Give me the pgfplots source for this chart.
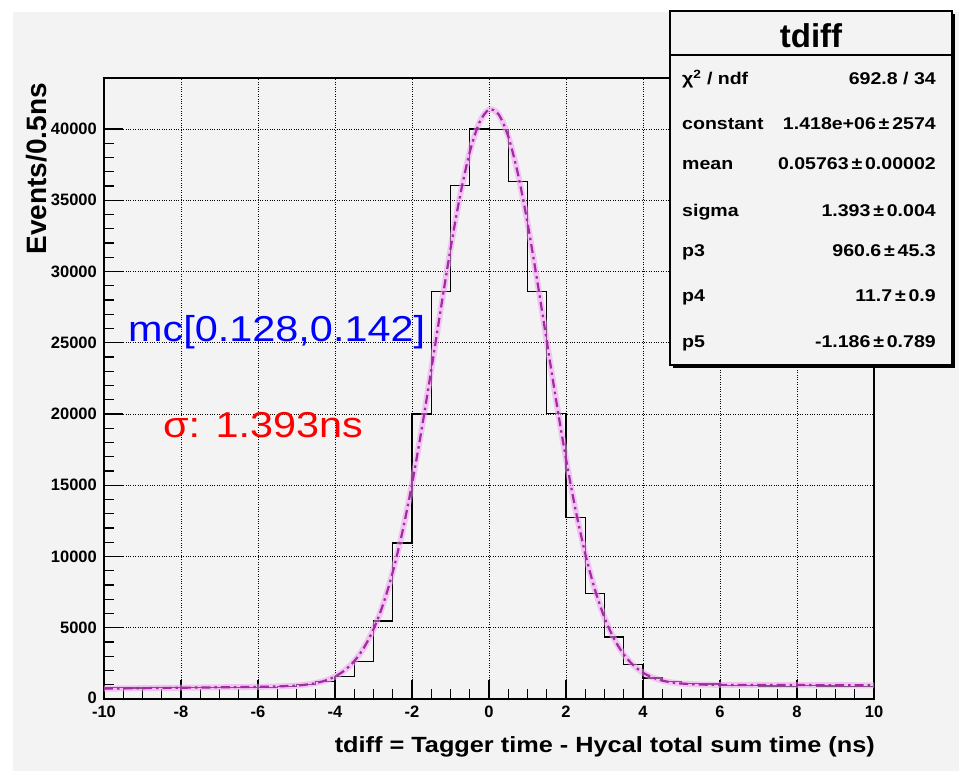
\documentclass[border=0pt]{standalone}
\usepackage{fontspec}
\setmainfont{Liberation Sans}
\newfontfamily\sx{Liberation Sans}[FakeStretch=1.15]
\usepackage{pgfplots}
\pgfplotsset{compat=1.18}
\definecolor{bggray}{HTML}{F3F3F3}
\definecolor{fitpink}{RGB}{240,160,240}
\definecolor{fitdark}{RGB}{165,40,165}
\begin{document}
\begin{tikzpicture}
\useasboundingbox (0pt,0pt) rectangle (959pt,771pt);
\fill[white] (0pt,0pt) rectangle (959pt,771pt);
\fill[bggray] (13pt,0pt) rectangle (959pt,759pt);
\begin{axis}[
  at={(104pt,72pt)}, anchor=south west,
  scale only axis, width=770pt, height=621pt,
  xmin=-10, xmax=10, ymin=0, ymax=43580,
  scaled y ticks=false, scaled x ticks=false,
  axis line style={line width=1.5pt},
  xtick={-10,-8,-6,-4,-2,0,2,4,6,8,10},
  xticklabels={-10,-8,-6,-4,-2,0,2,4,6,8,10},
  ytick={0,5000,10000,15000,20000,25000,30000,35000,40000},
  yticklabels={\raisebox{3pt}{0},5000,10000,15000,20000,25000,30000,35000,40000},
  minor x tick num=3, minor y tick num=4,
  tickpos=left, tick align=inside,
  major tick length=19pt, minor tick length=10pt,
  tick style={black, line width=1.2pt},
  grid=major, major grid style={black, dotted, line width=0.9pt},
  ticklabel style={font=\fontsize{16.5}{16.5}\selectfont\bfseries},
  yticklabel style={inner sep=0pt, xshift=-7pt},
  xticklabel style={inner sep=0pt, yshift=-7pt},
  axis background/.style={fill=bggray},
]
\addplot[const plot, black, line width=1.2pt] coordinates {
(-10,780) (-9.5,770) (-9,790) (-8.5,780) (-8,790) (-7.5,780) (-7,800) (-6.5,790)
(-6,800) (-5.5,880) (-5,1000) (-4.5,1250) (-4,1580) (-3.5,2620) (-3,5470)
(-2.5,10950) (-2,20000) (-1.5,28600) (-1,36050) (-0.5,40000) (0,39950)
(0.5,36330) (1,28600) (1.5,20050) (2,12750) (2.5,7400) (3,4350) (3.5,2420)
(4,1480) (4.5,1230) (5,1080) (5.5,1050) (6,950) (6.5,920) (7,910) (7.5,900)
(8,930) (8.5,910) (9,890) (9.5,870) (10,870)};
\addplot[smooth, fitpink, line width=6pt, opacity=0.55] coordinates {
(-10,725) (-9,759) (-8,791) (-7,821) (-6.5,835) (-6,852) (-5.5,879) (-5,944)
(-4.75,1009) (-4.5,1118) (-4.25,1295) (-4,1576) (-3.75,2010) (-3.5,2657)
(-3.25,3591) (-3,4893) (-2.75,6641) (-2.5,8905) (-2.25,11719) (-2,15078)
(-1.75,18911) (-1.5,23085) (-1.25,27397) (-1,31579) (-0.75,35338) (-0.5,38380)
(-0.25,40448) (0,41357) (0.25,41025) (0.5,39484) (0.75,36872) (1,33416)
(1.25,29399) (1.5,25119) (1.75,20856) (2,16849) (2.25,13262) (2.5,10198)
(2.75,7687) (3,5712) (3.25,4219) (3.5,3130) (3.75,2365) (4,1846) (4.25,1507)
(4.5,1292) (4.75,1161) (5,1084) (5.5,1015) (6,994) (6.5,987) (7,984) (8,978)
(9,970) (10,959)};
\addplot[smooth, fitdark, dash pattern=on 9pt off 4pt on 2.5pt off 4pt, line width=2.2pt] coordinates {
(-10,725) (-9,759) (-8,791) (-7,821) (-6.5,835) (-6,852) (-5.5,879) (-5,944)
(-4.75,1009) (-4.5,1118) (-4.25,1295) (-4,1576) (-3.75,2010) (-3.5,2657)
(-3.25,3591) (-3,4893) (-2.75,6641) (-2.5,8905) (-2.25,11719) (-2,15078)
(-1.75,18911) (-1.5,23085) (-1.25,27397) (-1,31579) (-0.75,35338) (-0.5,38380)
(-0.25,40448) (0,41357) (0.25,41025) (0.5,39484) (0.75,36872) (1,33416)
(1.25,29399) (1.5,25119) (1.75,20856) (2,16849) (2.25,13262) (2.5,10198)
(2.75,7687) (3,5712) (3.25,4219) (3.5,3130) (3.75,2365) (4,1846) (4.25,1507)
(4.5,1292) (4.75,1161) (5,1084) (5.5,1015) (6,994) (6.5,987) (7,984) (8,978)
(9,970) (10,959)};
\end{axis}
% axis titles
\node[anchor=base east, inner sep=0pt, font=\fontsize{22}{22}\selectfont\sx\bfseries]
  at (875pt,18pt) {tdiff = Tagger time - Hycal total sum time (ns)};
\node[rotate=90, anchor=base east, inner sep=0pt, font=\fontsize{28}{28}\selectfont\bfseries]
  at (46pt,688pt) {Events/0.5ns};
% annotations
\node[anchor=base west, inner sep=0pt, text=blue, font=\fontsize{36}{36}\selectfont\sx]
  at (128pt,429pt) {mc[0.128,0.142]};
\node[anchor=base west, inner sep=0pt, text=red, font=\fontsize{36}{36}\selectfont\sx]
  at (163pt,333pt) {σ: 1.393ns};
% stats box
\fill[black] (673pt,403pt) rectangle (955pt,757pt);
\filldraw[fill=bggray, draw=black, line width=1.2pt] (670pt,406pt) rectangle (952pt,760pt);
\draw[black, line width=1.2pt] (670pt,716pt) -- (952pt,716pt);
\node[anchor=base, inner sep=0pt, font=\fontsize{33}{33}\selectfont\bfseries] at (811pt,723pt) {tdiff};
\begin{scope}[every node/.style={inner sep=0pt, font=\fontsize{17}{17}\selectfont\sx\bfseries}]
\node[anchor=base west] at (682pt,686pt) {χ\textsuperscript{2} / ndf};
\node[anchor=base east] at (936pt,686pt) {692.8 / 34};
\node[anchor=base west] at (682pt,641pt) {constant};
\node[anchor=base east] at (936pt,641pt) {1.418e+06\,±\,2574};
\node[anchor=base west] at (682pt,601pt) {mean};
\node[anchor=base east] at (936pt,601pt) {0.05763\,±\,0.00002};
\node[anchor=base west] at (682pt,554pt) {sigma};
\node[anchor=base east] at (936pt,554pt) {1.393\,±\,0.004};
\node[anchor=base west] at (682pt,514pt) {p3};
\node[anchor=base east] at (936pt,514pt) {960.6\,±\,45.3};
\node[anchor=base west] at (682pt,469pt) {p4};
\node[anchor=base east] at (936pt,469pt) {11.7\,±\,0.9};
\node[anchor=base west] at (682pt,423pt) {p5};
\node[anchor=base east] at (936pt,423pt) {-1.186\,±\,0.789};
\end{scope}
\end{tikzpicture}
\end{document}
